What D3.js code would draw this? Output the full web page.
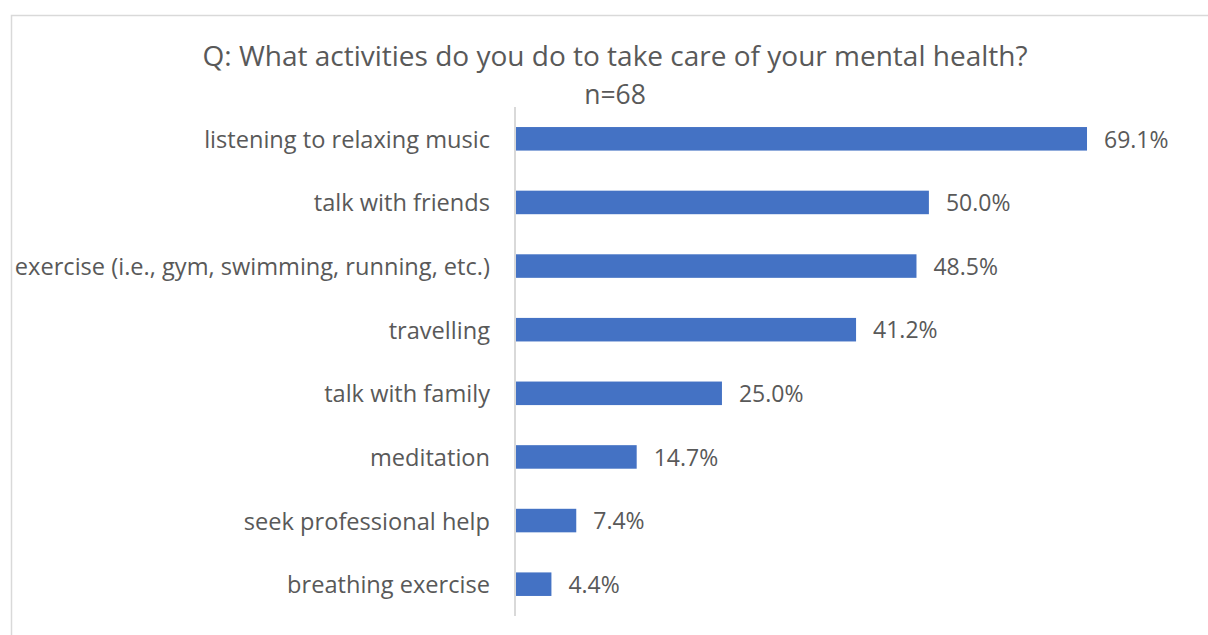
<!DOCTYPE html>
<html>
<head>
<meta charset="utf-8">
<script src="https://cdn.jsdelivr.net/npm/d3@7"></script>
<style>
  html, body { margin: 0; padding: 0; background: #fff; }
  svg { display: block; }
  text { font-family: "Open Sans", "Noto Sans", sans-serif; fill: #595959; }
</style>
</head>
<body>
<svg id="chart" width="1208" height="635"></svg>
<script>
// Survey responses: share of respondents per activity (%)
const categories = [
  "listening to relaxing music",
  "talk with friends",
  "exercise (i.e., gym, swimming, running, etc.)",
  "travelling",
  "talk with family",
  "meditation",
  "seek professional help",
  "breathing exercise"
];
const values = [69.1, 50.0, 48.5, 41.2, 25.0, 14.7, 7.4, 4.4];
const titleLines = ["Q: What activities do you do to take care of your mental health?", "n=68"];

const svg = d3.select("#chart");

// chart frame
svg.append("rect")
  .attr("x", 11.5).attr("y", 15.5)
  .attr("width", 1220).attr("height", 640)
  .attr("fill", "none").attr("stroke", "#d9d9d9").attr("stroke-width", 1.5);

const x = d3.scaleLinear().domain([0, 80]).range([515, 515 + 80 * 8.278]);
const y = d3.scaleBand().domain(categories).range([107, 616]).paddingInner(0.63).paddingOuter(0.315);

// title
svg.append("text")
  .attr("x", 615).attr("y", 66)
  .attr("text-anchor", "middle")
  .style("font-size", "28px")
  .text(titleLines[0]);
svg.append("text")
  .attr("x", 615).attr("y", 104)
  .attr("text-anchor", "middle")
  .style("font-size", "26.5px")
  .text(titleLines[1]);

// bars
svg.selectAll("rect.bar")
  .data(values)
  .join("rect")
  .attr("class", "bar")
  .attr("x", x(0))
  .attr("y", (d, i) => y(categories[i]))
  .attr("width", d => x(d) - x(0))
  .attr("height", y.bandwidth())
  .attr("fill", "#4472c4");

// category axis
const axis = svg.append("g")
  .attr("transform", `translate(${x(0)},0)`)
  .call(d3.axisLeft(y).tickSize(0).tickPadding(25));
axis.select(".domain").attr("stroke", "#d9d9d9").attr("stroke-width", 2)
  .attr("d", `M0,107V616`);
axis.selectAll("text")
  .style("font-size", "23.6px")
  .style("font-family", "\"Open Sans\", \"Noto Sans\", sans-serif")
  .attr("fill", "#595959")
  .attr("dy", "0.38em");

// value labels
svg.selectAll("text.val")
  .data(values)
  .join("text")
  .attr("class", "val")
  .attr("x", d => x(d) + 17)
  .attr("y", (d, i) => y(categories[i]) + y.bandwidth() / 2)
  .attr("dy", "0.38em")
  .style("font-size", "23px")
  .text(d => d.toFixed(1) + "%");
</script>
</body>
</html>
